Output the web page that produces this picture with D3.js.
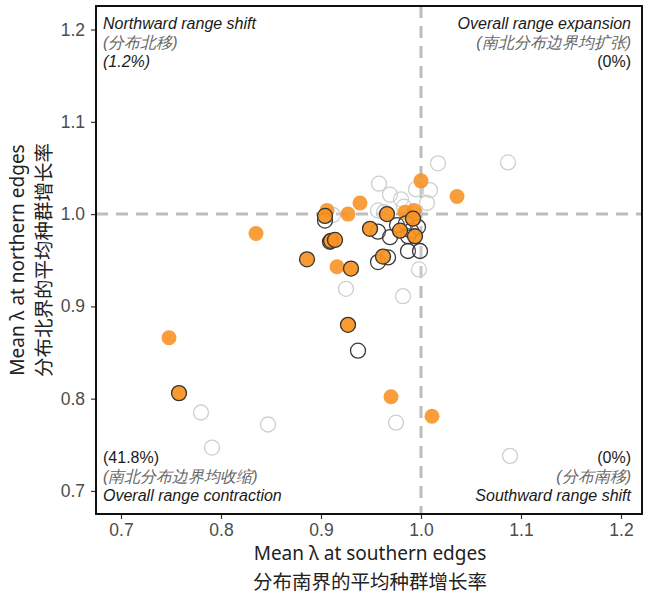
<!DOCTYPE html>
<html><head><meta charset="utf-8">
<script src="https://cdn.jsdelivr.net/npm/d3@7"></script>
<style>body{margin:0;background:#fff}</style>
</head><body><svg id="c" width="650" height="594"></svg>
<script>
// Orange, no outline
const orangeLight = [[1.000,1.036],[1.036,1.019],[0.939,1.012],[0.906,1.004],[0.927,1.000],[0.984,1.002],[0.993,1.004],[0.835,0.979],[0.748,0.866],[0.970,0.802],[1.011,0.781],[0.916,0.943]];
// Orange, dark outline
const orangeDark = [[0.904,0.998],[0.966,1.000],[0.992,0.995],[0.949,0.984],[0.979,0.982],[0.994,0.976],[0.910,0.971],[0.914,0.972],[0.886,0.951],[0.962,0.954],[0.930,0.941],[0.927,0.880],[0.758,0.806]];
// Open, light outline
const openLight = [[1.017,1.055],[1.087,1.056],[0.958,1.033],[1.009,1.026],[0.995,1.027],[0.969,1.021],[0.980,1.016],[1.006,1.012],[0.957,1.004],[0.912,0.999],[0.998,0.940],[0.925,0.919],[0.982,0.911],[0.975,0.774],[1.089,0.738],[0.780,0.785],[0.791,0.747],[0.847,0.772],[0.963,1.002],[0.983,1.008]];
// Open, dark outline
const openDark = [[0.904,0.993],[0.957,0.981],[0.969,0.975],[0.976,0.988],[0.997,0.986],[0.987,0.976],[0.909,0.970],[0.957,0.948],[0.967,0.953],[0.987,0.960],[0.999,0.960],[0.937,0.852],[0.985,0.990],[0.990,0.982]];
const xTicks = [0.7,0.8,0.9,1.0,1.1,1.2];
const yTicks = [0.7,0.8,0.9,1.0,1.1,1.2];

const svg = d3.select('#c');
const L=96, R=642, T=6, B=514;
const x = d3.scaleLinear().domain([0.675,1.221]).range([L,R]);
const y = d3.scaleLinear().domain([0.675,1.2255]).range([B,T]);
const latin = "'Liberation Sans', Arial, sans-serif";
const cjk = "'Noto Sans CJK SC', sans-serif";
const title = "'Noto Sans', sans-serif";

// reference lines
svg.append('line').attr('x1',L).attr('x2',R).attr('y1',y(1)).attr('y2',y(1))
  .attr('stroke','#bdbdbd').attr('stroke-width',3).attr('stroke-dasharray','12,8');
svg.append('line').attr('x1',x(1)).attr('x2',x(1)).attr('y1',T).attr('y2',B)
  .attr('stroke','#bdbdbd').attr('stroke-width',3).attr('stroke-dasharray','12,8');

function pts(data, fill, fop, stroke) {
  svg.append('g').selectAll('circle').data(data).join('circle')
    .attr('cx',d=>x(d[0])).attr('cy',d=>y(d[1])).attr('r',7.5)
    .attr('fill',fill).attr('fill-opacity',fop)
    .attr('stroke',stroke).attr('stroke-width',1.3);
}
pts(openLight,'#fff',0.15,'#cfcfcf');
pts(orangeLight,'#f8911f',0.88,'none');
pts(openDark,'#fff',0.15,'#3a3a3a');
pts(orangeDark,'#f8911f',0.92,'#333');

// axes
const xa = svg.append('g').attr('transform',`translate(0,${B})`)
  .call(d3.axisBottom(x).tickValues(xTicks).tickFormat(d3.format('.1f')).tickSizeOuter(0).tickSize(5).tickPadding(5));
const ya = svg.append('g').attr('transform',`translate(${L},0)`)
  .call(d3.axisLeft(y).tickValues(yTicks).tickFormat(d3.format('.1f')).tickSizeOuter(0).tickSize(5).tickPadding(6));
[xa,ya].forEach(a=>{
  a.select('.domain').remove();
  a.selectAll('line').attr('stroke','#333').attr('stroke-width',1.2);
  a.selectAll('text').attr('fill','#4d4d4d').attr('font-size',17.5).attr('font-family',latin);
});

// panel border
svg.append('rect').attr('x',L).attr('y',T).attr('width',R-L).attr('height',B-T)
  .attr('fill','none').attr('stroke','#111').attr('stroke-width',2);

// corner annotations
function note(tx, ty, anchor, lines) {
  lines.forEach((l,i)=>{
    svg.append('text').attr('x',tx).attr('y',ty+i*19).attr('text-anchor',anchor)
      .attr('font-size',16).attr('font-family',latin)
      .attr('font-style',l.it?'italic':'normal').attr('fill',l.c)
      .text(l.t);
  });
}
note(103,29,'start',[{t:'Northward range shift',it:1,c:'#1a1a1a'},{t:'(分布北移)',it:1,c:'#666'},{t:'(1.2%)',it:1,c:'#1a1a1a'}]);
note(631,29,'end',[{t:'Overall range expansion',it:1,c:'#1a1a1a'},{t:'(南北分布边界均扩张)',it:1,c:'#666'},{t:'(0%)',it:0,c:'#1a1a1a'}]);
note(103,463,'start',[{t:'(41.8%)',it:0,c:'#1a1a1a'},{t:'(南北分布边界均收缩)',it:1,c:'#666'},{t:'Overall range contraction',it:1,c:'#1a1a1a'}]);
note(631,463,'end',[{t:'(0%)',it:0,c:'#1a1a1a'},{t:'(分布南移)',it:1,c:'#666'},{t:'Southward range shift',it:1,c:'#1a1a1a'}]);

// axis titles
svg.append('text').attr('x',370).attr('y',560).attr('text-anchor','middle')
  .attr('font-size',19).attr('font-family',title).attr('fill','#222').text('Mean λ at southern edges');
svg.append('text').attr('x',370).attr('y',589).attr('text-anchor','middle')
  .attr('font-size',19.5).attr('font-family',cjk).attr('fill','#222').text('分布南界的平均种群增长率');
svg.append('text').attr('transform',`translate(24,${(T+B)/2}) rotate(-90)`).attr('text-anchor','middle')
  .attr('font-size',19).attr('font-family',title).attr('fill','#222').text('Mean λ at northern edges');
svg.append('text').attr('transform',`translate(51,${(T+B)/2}) rotate(-90)`).attr('text-anchor','middle')
  .attr('font-size',19.5).attr('font-family',cjk).attr('fill','#222').text('分布北界的平均种群增长率');
</script></body></html>
